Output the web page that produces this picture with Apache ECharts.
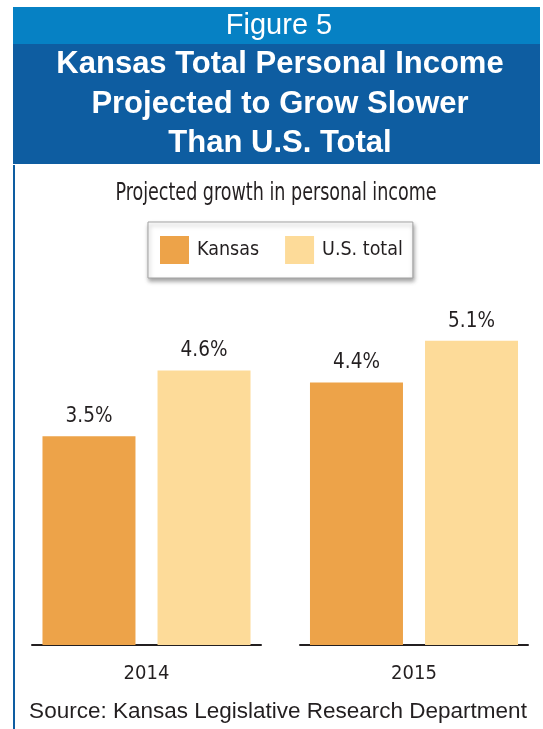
<!DOCTYPE html>
<html>
<head>
<meta charset="utf-8">
<script src="https://cdn.jsdelivr.net/npm/echarts@6/dist/echarts.min.js"></script>
<style>
  html, body { margin: 0; padding: 0; background: #fff; }
  #chart { width: 543px; height: 729px; }
</style>
</head>
<body>
<div id="chart"></div>
<script>
// data
const years = ['2014', '2015']
const kansas = [3.5, 4.4]
const usTotal = [4.6, 5.1]
const seriesNames = ['Kansas', 'U.S. total']

const narrow = "'Liberation Sans Narrow', 'DejaVu Sans Condensed', sans-serif"
const sans = "'Liberation Sans', Arial, sans-serif"
const colors = { 'Kansas': '#EDA349', 'U.S. total': '#FDDB99' }

// one grid per year so each year gets its own baseline segment
const gridBoxes = [
  { left: 32, width: 229 },
  { left: 300, width: 228 }
]

var grids = [], xAxes = [], yAxes = [], series = []
years.forEach(function (year, i) {
  grids.push({ left: gridBoxes[i].left, width: gridBoxes[i].width, top: 287, height: 358 })
  xAxes.push({
    type: 'category', gridIndex: i, data: [year],
    axisLine: { lineStyle: { color: '#231F20', width: 2 } },
    axisTick: { show: false },
    axisLabel: { margin: 19, fontFamily: narrow, fontSize: 20, color: '#231F20' }
  })
  yAxes.push({ type: 'value', gridIndex: i, min: 0, max: 6, show: false, splitLine: { show: false } })
  var vals = [kansas[i], usTotal[i]]
  seriesNames.forEach(function (name, j) {
    series.push({
      name: name, type: 'bar', xAxisIndex: i, yAxisIndex: i,
      data: [vals[j]],
      barWidth: 93, barGap: '23.7%',
      itemStyle: { color: colors[name] },
      label: {
        show: true, position: 'top', distance: 9,
        fontFamily: narrow, fontSize: 20.5, color: '#231F20',
        formatter: function (p) { return p.value.toFixed(1) + '%' }
      }
    })
  })
})

var myChart = echarts.init(document.getElementById('chart'), null, { renderer: 'canvas' })
myChart.setOption({
  animation: false,
  backgroundColor: '#fff',
  grid: grids,
  xAxis: xAxes,
  yAxis: yAxes,
  legend: {
    data: seriesNames,
    left: 148, top: 222,
    padding: [14, 10, 14, 12],
    itemWidth: 29, itemHeight: 28, itemGap: 26,
    icon: 'rect',
    borderColor: '#A3A3A3', borderWidth: 1,
    backgroundColor: '#fff',
    shadowColor: 'rgba(0,0,0,0.35)', shadowBlur: 4, shadowOffsetX: 1, shadowOffsetY: 3,
    textStyle: { fontFamily: narrow, fontSize: 19.5, color: '#231F20', padding: [0, 0, 0, 3] }
  },
  graphic: [
    { type: 'rect', shape: { x: 13, y: 7, width: 527, height: 37 }, style: { fill: '#0681C4' } },
    { type: 'rect', shape: { x: 13, y: 44, width: 527, height: 120 }, style: { fill: '#0E5DA1' } },
    { type: 'rect', shape: { x: 13, y: 165, width: 2, height: 564 }, style: { fill: '#0E5DA1' } },
    { type: 'text', style: { text: 'Figure 5', x: 279, y: 26, textAlign: 'center', verticalAlign: 'middle',
        font: '29px ' + sans, fill: '#fff' } },
    { type: 'text', style: { text: 'Kansas Total Personal Income\nProjected to Grow Slower\nThan U.S. Total',
        x: 280, y: 104, textAlign: 'center', verticalAlign: 'middle', lineHeight: 39.5,
        font: 'bold 31px ' + sans, fill: '#fff' } },
    { type: 'text', x: 276, y: 193, scaleX: 0.78,
      style: { text: 'Projected growth in personal income', x: 0, y: 0,
        textAlign: 'center', verticalAlign: 'middle', font: '25px ' + narrow, fill: '#231F20' } },
    { type: 'text', style: { text: 'Source: Kansas Legislative Research Department', x: 278, y: 712,
        textAlign: 'center', verticalAlign: 'middle', font: '22.5px ' + sans, fill: '#231F20' } }
  ],
  series: series
})
</script>
</body>
</html>
